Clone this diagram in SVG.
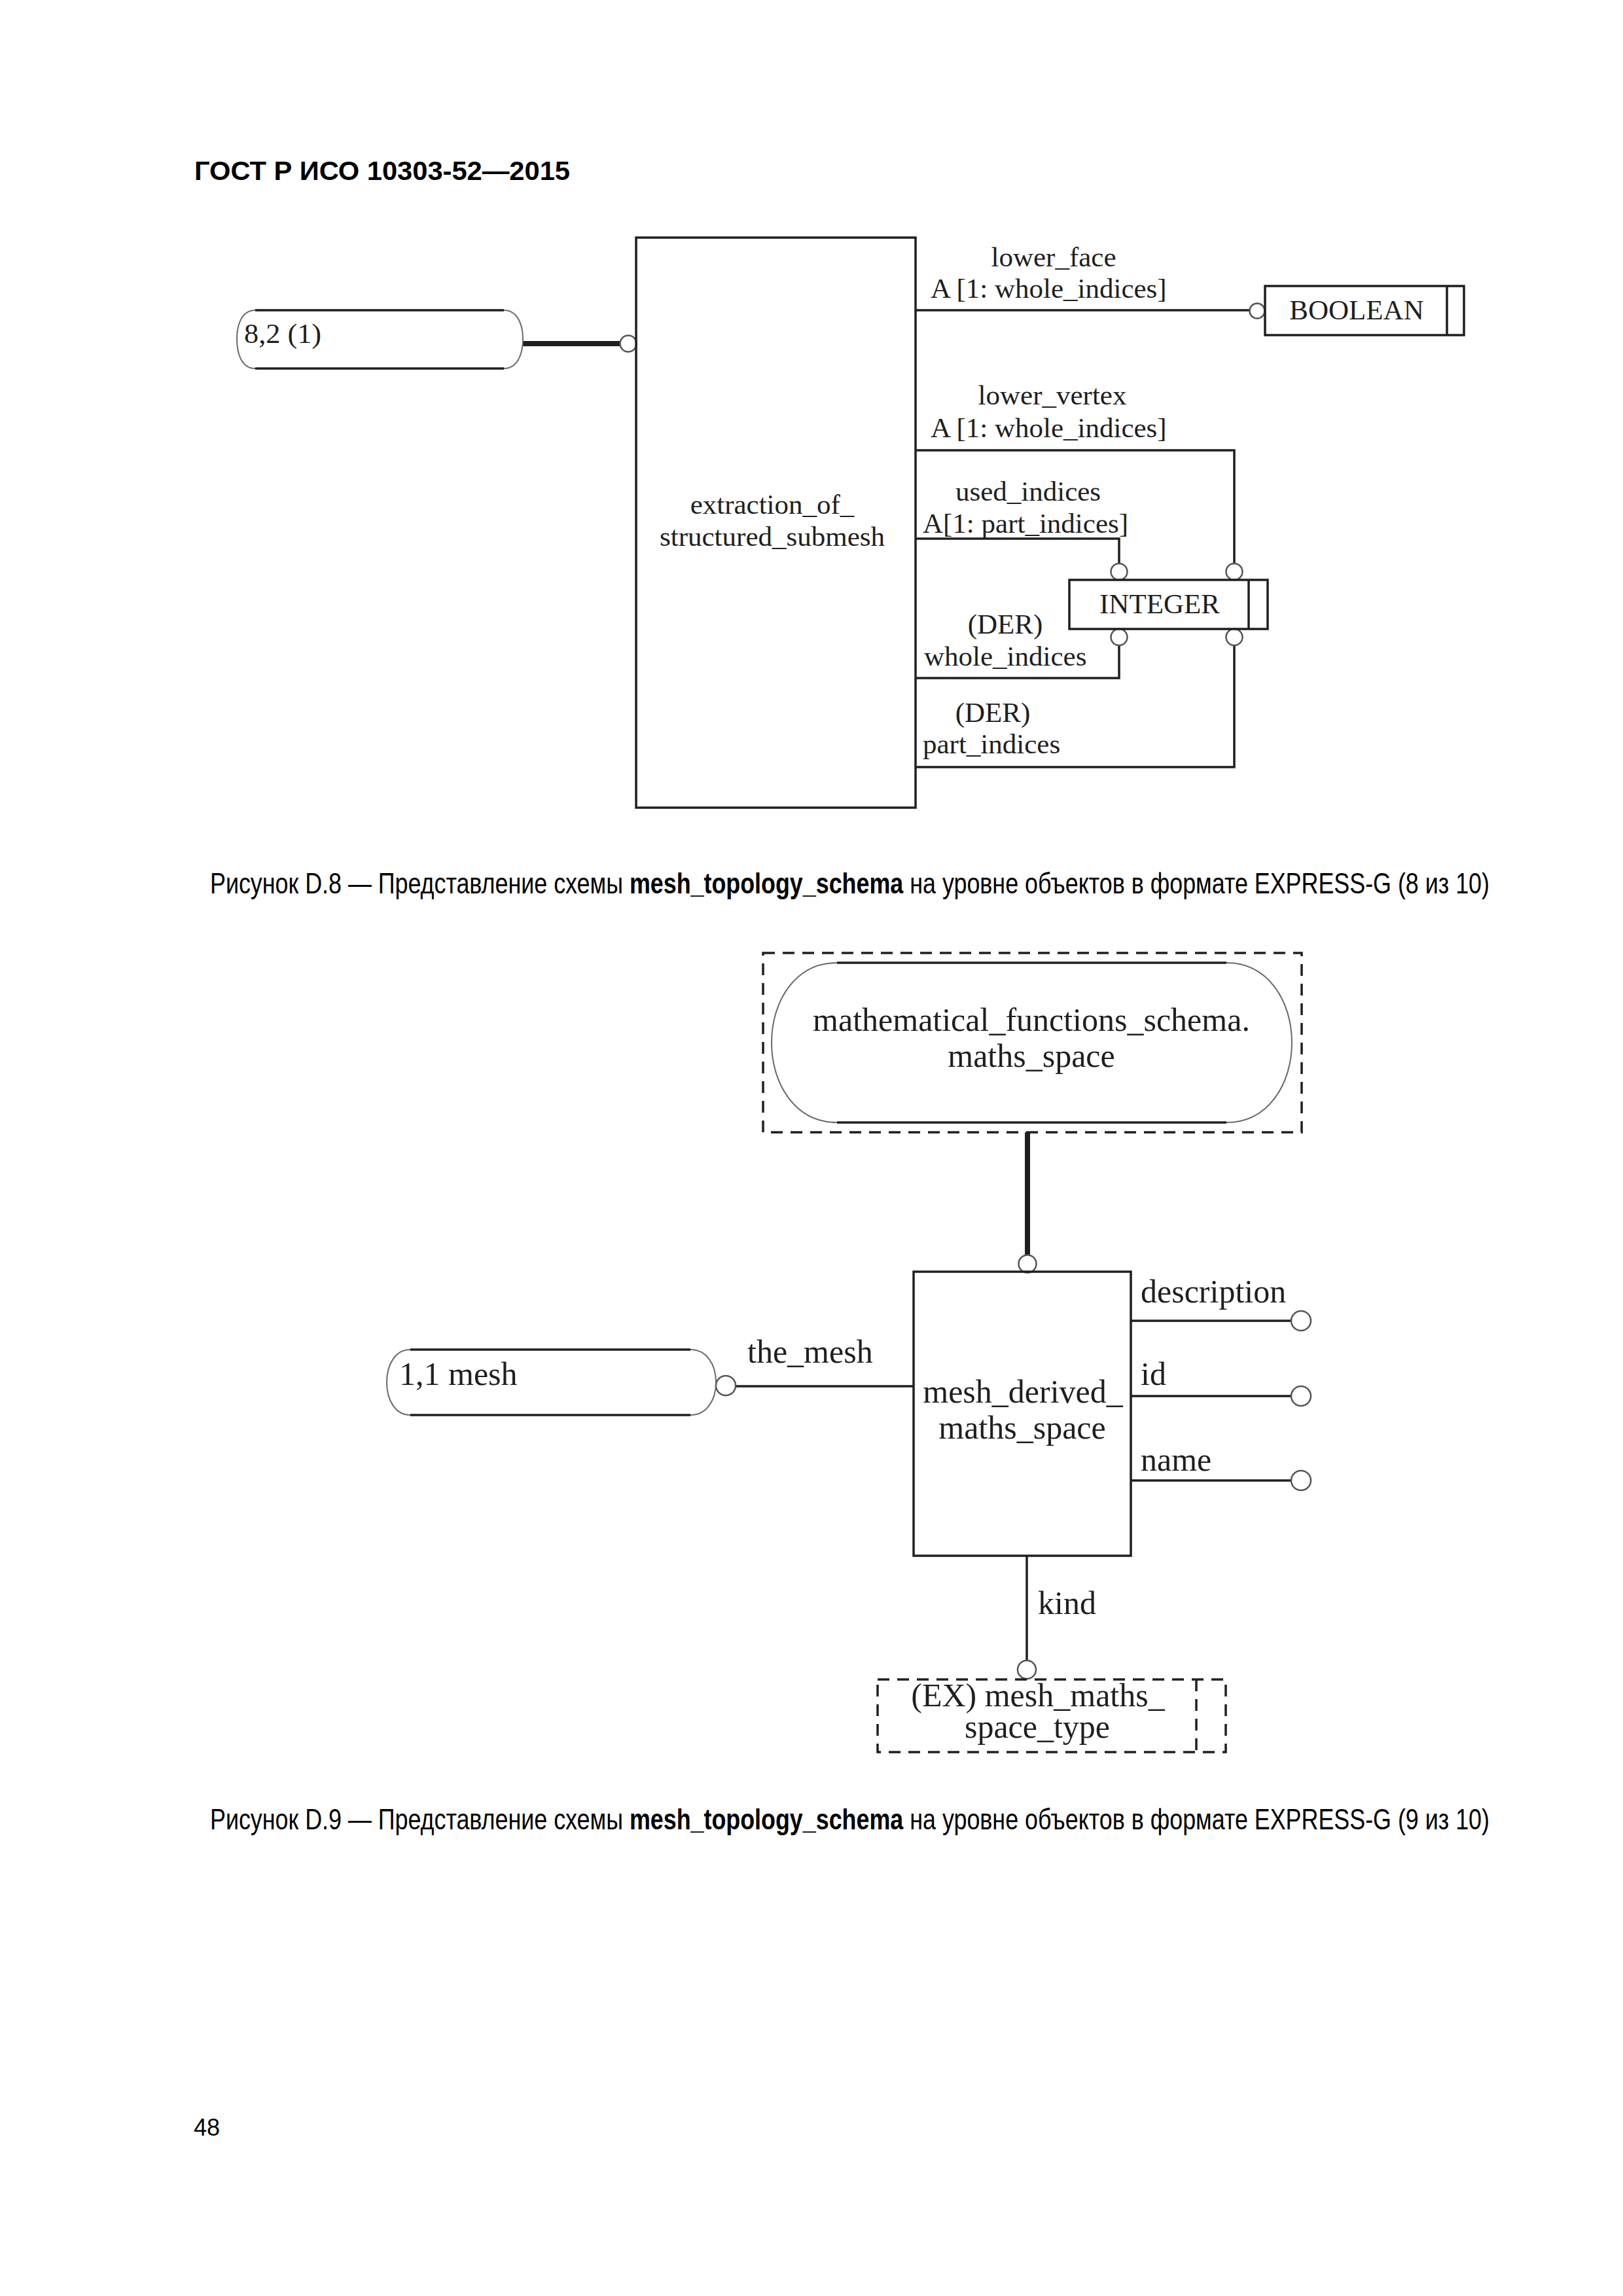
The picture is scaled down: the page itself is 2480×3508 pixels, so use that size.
<svg xmlns="http://www.w3.org/2000/svg" width="2480" height="3508" viewBox="0 0 2480 3508">
<style>
.bg{fill:#ffffff}
.ln{fill:none;stroke:#1f1f1f;stroke-width:3.5}
.thick{fill:none;stroke:#1f1f1f;stroke-width:8}
.dash{fill:none;stroke:#1f1f1f;stroke-width:3.5;stroke-dasharray:18 12}
.arc{fill:none;stroke:#6a6a6a;stroke-width:2}
.circ{fill:#ffffff;stroke:#555555;stroke-width:2.5}
.box{fill:none;stroke:#1f1f1f;stroke-width:3.5}
.t8{font-family:"Liberation Serif","Times New Roman",serif;font-size:43px;fill:#1f1f1f}
.t9{font-family:"Liberation Serif","Times New Roman",serif;font-size:50px;fill:#1f1f1f}
.hd{font-family:"Liberation Sans",Arial,sans-serif;font-size:40px;font-weight:bold;fill:#000}
.cap{font-family:"Liberation Sans",Arial,sans-serif;font-size:44px;fill:#000}
.b{font-weight:bold}
.pg{font-family:"Liberation Sans",Arial,sans-serif;font-size:36px;fill:#000}
</style>
<rect class="bg" x="0" y="0" width="2480" height="3508"/>

<text class="hd" x="297" y="275" textLength="574" lengthAdjust="spacingAndGlyphs">ГОСТ Р ИСО 10303-52—2015</text>

<!-- Figure D.8 -->
<g id="connectors-d8">
  <line class="thick" x1="799" y1="525" x2="948" y2="525"/>
  <path class="ln" d="M1399,474 H1910"/>
  <path class="ln" d="M1399,688 H1886 V861"/>
  <path class="ln" d="M1399,823 H1710 V861"/>
  <path class="ln" d="M1399,1036 H1710 V986"/>
  <path class="ln" d="M1399,1172 H1886 V986"/>
  <circle class="circ" cx="960" cy="525" r="12.5"/>
  <circle class="circ" cx="1921" cy="475" r="11.5"/>
  <circle class="circ" cx="1710" cy="873.5" r="12.5"/>
  <circle class="circ" cx="1886" cy="873.5" r="12.5"/>
  <circle class="circ" cx="1710" cy="973.5" r="12.5"/>
  <circle class="circ" cx="1886" cy="973.5" r="12.5"/>
  <text class="t8" x="1610" y="407" text-anchor="middle">lower_face</text>
  <text class="t8" x="1422" y="455">A [1: whole_indices]</text>
  <text class="t8" x="1608" y="618" text-anchor="middle">lower_vertex</text>
  <text class="t8" x="1422" y="668">A [1: whole_indices]</text>
  <text class="t8" x="1571" y="765" text-anchor="middle">used_indices</text>
  <text class="t8" x="1410" y="814">A[1: part_indices]</text>
  <text class="t8" x="1536" y="968" text-anchor="middle">(DER)</text>
  <text class="t8" x="1412" y="1017">whole_indices</text>
  <text class="t8" x="1517" y="1103" text-anchor="middle">(DER)</text>
  <text class="t8" x="1410" y="1151">part_indices</text>
</g>

<g id="node-page-ref-8-2">
  <line class="ln" x1="390" y1="474" x2="770" y2="474"/>
  <line class="ln" x1="390" y1="563" x2="770" y2="563"/>
  <path class="arc" d="M390,474 C370,474 362,495 362,518 C362,542 370,563 390,563"/>
  <path class="arc" d="M770,474 C790,474 799,495 799,518 C799,542 790,563 770,563"/>
  <text class="t8" x="373" y="524" font-size="46" textLength="118" lengthAdjust="spacingAndGlyphs">8,2 (1)</text>
</g>

<g id="node-extraction-of-structured-submesh">
  <rect class="box" x="972" y="363" width="427" height="871"/>
  <text class="t8" x="1180" y="785" text-anchor="middle">extraction_of_</text>
  <text class="t8" x="1180" y="834" text-anchor="middle">structured_submesh</text>
</g>

<g id="node-boolean">
  <rect class="box" x="1933" y="437" width="304" height="75"/>
  <line class="ln" x1="2211" y1="437" x2="2211" y2="512" stroke-width="5"/>
  <text class="t8" x="2073" y="488" text-anchor="middle">BOOLEAN</text>
</g>

<g id="node-integer">
  <rect class="box" x="1634" y="886" width="303" height="75"/>
  <line class="ln" x1="1908" y1="886" x2="1908" y2="961" stroke-width="5"/>
  <text class="t8" x="1772" y="937" text-anchor="middle">INTEGER</text>
</g>

<text class="cap" x="321" y="1365" textLength="1955" lengthAdjust="spacingAndGlyphs">Рисунок D.8 — Представление схемы <tspan class="b">mesh_topology_schema</tspan> на уровне объектов в формате EXPRESS-G (8 из 10)</text>

<!-- Figure D.9 -->
<g id="connectors-d9">
  <line class="thick" x1="1570" y1="1730" x2="1570" y2="1918"/>
  <line class="ln" x1="1124" y1="2118" x2="1396" y2="2118"/>
  <line class="ln" x1="1728" y1="2018" x2="1973" y2="2018"/>
  <line class="ln" x1="1728" y1="2133" x2="1973" y2="2133"/>
  <line class="ln" x1="1728" y1="2262" x2="1973" y2="2262"/>
  <line class="ln" x1="1569" y1="2377" x2="1569" y2="2537"/>
  <circle class="circ" cx="1570" cy="1931" r="13.5"/>
  <circle class="circ" cx="1109" cy="2117" r="15"/>
  <circle class="circ" cx="1988" cy="2018" r="15"/>
  <circle class="circ" cx="1988" cy="2133" r="15"/>
  <circle class="circ" cx="1988" cy="2262" r="15"/>
  <circle class="circ" cx="1569" cy="2551" r="14"/>
  <text class="t9" x="1142" y="2082">the_mesh</text>
  <text class="t9" x="1743" y="1990">description</text>
  <text class="t9" x="1743" y="2116">id</text>
  <text class="t9" x="1743" y="2247">name</text>
  <text class="t9" x="1586" y="2466">kind</text>
</g>

<g id="node-maths-space">
  <rect class="dash" x="1166" y="1456" width="823" height="274"/>
  <line class="ln" x1="1279" y1="1471" x2="1874" y2="1471"/>
  <line class="ln" x1="1279" y1="1715" x2="1874" y2="1715"/>
  <path class="arc" d="M1279,1471 C1215,1471 1179,1530 1179,1593 C1179,1656 1215,1715 1279,1715"/>
  <path class="arc" d="M1874,1471 C1938,1471 1974,1530 1974,1593 C1974,1656 1938,1715 1874,1715"/>
  <text class="t9" x="1576" y="1575" text-anchor="middle">mathematical_functions_schema.</text>
  <text class="t9" x="1576" y="1630" text-anchor="middle">maths_space</text>
</g>

<g id="node-mesh-ref">
  <line class="ln" x1="627" y1="2062" x2="1055" y2="2062"/>
  <line class="ln" x1="627" y1="2162" x2="1055" y2="2162"/>
  <path class="arc" d="M627,2062 C604,2062 591,2085 591,2112 C591,2139 604,2162 627,2162"/>
  <path class="arc" d="M1055,2062 C1080,2062 1094,2085 1094,2112 C1094,2139 1080,2162 1055,2162"/>
  <text class="t9" x="610" y="2116">1,1 mesh</text>
</g>

<g id="node-mesh-derived-maths-space">
  <rect class="box" x="1396" y="1943" width="332" height="434"/>
  <text class="t9" x="1563" y="2143" text-anchor="middle">mesh_derived_</text>
  <text class="t9" x="1562" y="2198" text-anchor="middle">maths_space</text>
</g>

<g id="node-mesh-maths-space-type">
  <rect class="dash" x="1341" y="2566" width="532" height="111"/>
  <line class="dash" x1="1828" y1="2566" x2="1828" y2="2677"/>
  <text class="t9" x="1586" y="2607" text-anchor="middle">(EX) mesh_maths_</text>
  <text class="t9" x="1585" y="2655" text-anchor="middle">space_type</text>
</g>

<text class="cap" x="321" y="2795" textLength="1955" lengthAdjust="spacingAndGlyphs">Рисунок D.9 — Представление схемы <tspan class="b">mesh_topology_schema</tspan> на уровне объектов в формате EXPRESS-G (9 из 10)</text>

<text class="pg" x="296" y="3263">48</text>
</svg>
